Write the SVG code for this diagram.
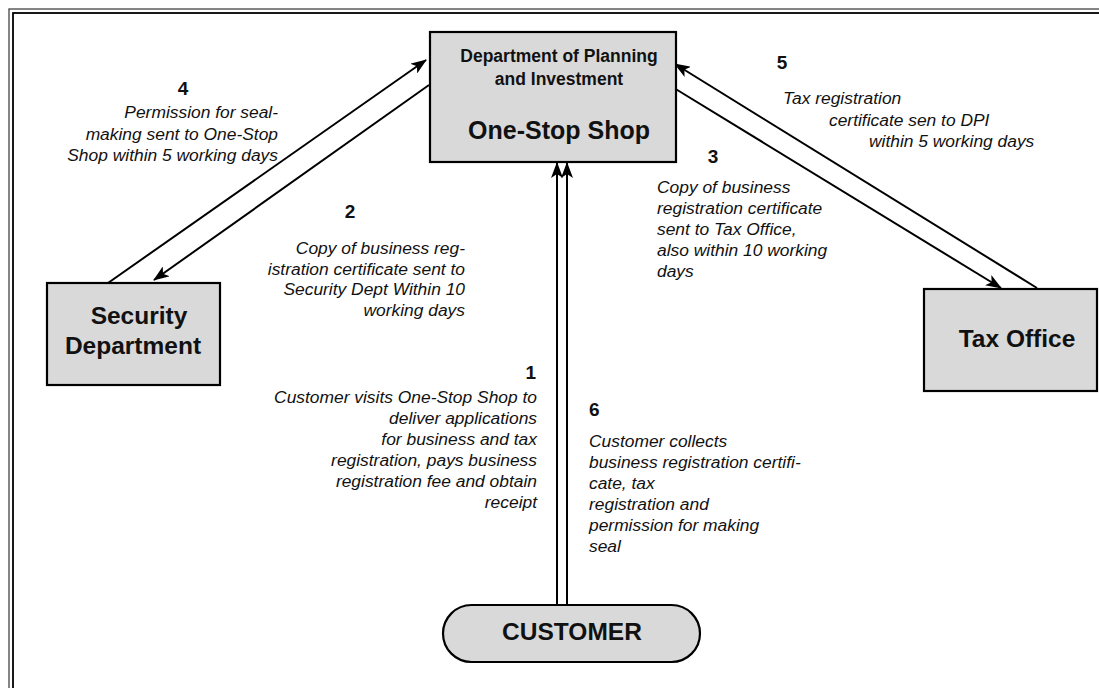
<svg xmlns="http://www.w3.org/2000/svg" width="1099" height="688" viewBox="0 0 1099 688">
  <style>
    .box { fill: #d9d9d9; stroke: #000; stroke-width: 2.2; }
    .ttl { font-family: "Liberation Sans", Arial, sans-serif; font-weight: bold; fill: #111; text-anchor: middle; }
    .num { font-family: "Liberation Sans", Arial, sans-serif; font-weight: bold; font-size: 19px; fill: #111; }
    .note { font-family: "Liberation Sans", Arial, sans-serif; font-style: italic; font-size: 17.4px; fill: #111; }
    .end { text-anchor: end; }
    .link { stroke: #000; stroke-width: 2; fill: none; }
  </style>
  <defs>
    <marker id="head" viewBox="0 0 16 12" refX="15" refY="6" markerWidth="16" markerHeight="12" markerUnits="userSpaceOnUse" orient="auto">
      <path d="M0,0 L16,6 L0,12 L4,6 Z" fill="#000"/>
    </marker>
  </defs>

  <rect width="1099" height="688" fill="#fff"/>

  <!-- frame: double rule along top and left -->
  <g id="frame" fill="none">
    <rect x="9" y="9" width="1120" height="720" stroke="#444" stroke-width="1.3"/>
    <rect x="13" y="13" width="1120" height="720" stroke="#000" stroke-width="1.8"/>
  </g>

  <!-- connectors -->
  <g id="connectors" class="link">
    <line x1="108" y1="283" x2="426" y2="60" marker-end="url(#head)"/>
    <line x1="429" y1="85" x2="154" y2="280" marker-end="url(#head)"/>
    <line x1="1037" y1="288" x2="675" y2="64" marker-end="url(#head)"/>
    <line x1="674" y1="88" x2="1001" y2="288" marker-end="url(#head)"/>
    <line x1="557" y1="606" x2="557" y2="163" marker-end="url(#head)"/>
    <line x1="567" y1="606" x2="567" y2="163" marker-end="url(#head)"/>
  </g>

  <g id="one-stop-shop">
    <rect class="box" x="430" y="32" width="246" height="130"/>
    <text class="ttl" x="559" y="62" font-size="17.5px">Department of Planning</text>
    <text class="ttl" x="559" y="85" font-size="17.5px">and Investment</text>
    <text class="ttl" x="559" y="139" font-size="25px">One-Stop Shop</text>
  </g>

  <g id="security-department">
    <rect class="box" x="47" y="283" width="173" height="102"/>
    <text class="ttl" x="139" y="324" font-size="24.5px">Security</text>
    <text class="ttl" x="133" y="354" font-size="24.5px">Department</text>
  </g>

  <g id="tax-office">
    <rect class="box" x="924" y="289" width="173" height="102"/>
    <text class="ttl" x="1017" y="347" font-size="24.5px">Tax Office</text>
  </g>

  <g id="customer">
    <rect class="box" x="443" y="605" width="257" height="57" rx="28.5" ry="28.5"/>
    <text class="ttl" x="572" y="640" font-size="24.5px">CUSTOMER</text>
  </g>

  <!-- step labels -->
  <g id="label-4">
    <text class="num" x="183" y="95" text-anchor="middle">4</text>
    <text class="note end" x="278" y="118">Permission for seal-</text>
    <text class="note end" x="278" y="140">making sent to One-Stop</text>
    <text class="note end" x="278" y="161">Shop within 5 working days</text>
  </g>

  <g id="label-2">
    <text class="num" x="350" y="218" text-anchor="middle">2</text>
    <text class="note end" x="465" y="254">Copy of business reg-</text>
    <text class="note end" x="465" y="274.5">istration certificate sent to</text>
    <text class="note end" x="465" y="295">Security Dept Within 10</text>
    <text class="note end" x="465" y="315.5">working days</text>
  </g>

  <g id="label-5">
    <text class="num" x="782" y="69" text-anchor="middle">5</text>
    <text class="note" x="783" y="104">Tax registration</text>
    <text class="note" x="829" y="126">certificate sen to DPI</text>
    <text class="note" x="869" y="147">within 5 working days</text>
  </g>

  <g id="label-3">
    <text class="num" x="713" y="163" text-anchor="middle">3</text>
    <text class="note" x="657" y="193">Copy of business</text>
    <text class="note" x="657" y="213.5">registration certificate</text>
    <text class="note" x="657" y="234.5">sent to Tax Office,</text>
    <text class="note" x="657" y="256">also within 10 working</text>
    <text class="note" x="657" y="277">days</text>
  </g>

  <g id="label-1">
    <text class="num" x="536" y="379" text-anchor="end">1</text>
    <text class="note end" x="537" y="403">Customer visits One-Stop Shop to</text>
    <text class="note end" x="537" y="424">deliver applications</text>
    <text class="note end" x="537" y="445">for business and tax</text>
    <text class="note end" x="537" y="466">registration, pays business</text>
    <text class="note end" x="537" y="487">registration fee and obtain</text>
    <text class="note end" x="537" y="508">receipt</text>
  </g>

  <g id="label-6">
    <text class="num" x="589" y="416">6</text>
    <text class="note" x="589" y="447">Customer collects</text>
    <text class="note" x="589" y="467.5">business registration certifi-</text>
    <text class="note" x="589" y="488.5">cate, tax</text>
    <text class="note" x="589" y="509.5">registration and</text>
    <text class="note" x="589" y="531">permission for making</text>
    <text class="note" x="589" y="552">seal</text>
  </g>
</svg>
